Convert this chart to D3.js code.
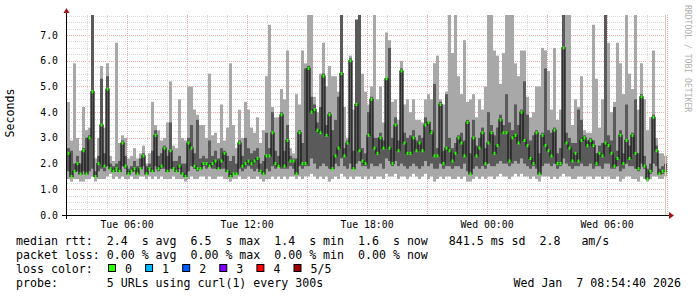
<!DOCTYPE html>
<html>
<head>
<meta charset="UTF-8">
<title>Smokeping latency</title>
<style>
  body { margin: 0; background: #fff; }
  text { font-family: "DejaVu Sans Mono", monospace; fill: #000; white-space: pre; }
  .tick { font-size: 9.8px; }
  .legend { font-size: 11.6px; }
</style>
</head>
<body>
<svg id="chart" width="697" height="297"></svg>
<script src="https://cdn.jsdelivr.net/npm/d3@7"></script>
<script>
// 9-minute columns, Tue 03:00 -> Wed 09:00
var pingMin = [1.4,1.3,1.4,1.4,1.3,1.3,1.4,1.4,1.5,1.3, 1.4,1.4,1.4,1.5,1.6,1.4,1.5,1.4,1.5,1.4, 1.4,1.5,1.4,1.4,1.5,1.5,1.4,1.5,1.4,1.5, 1.4,1.5,1.4,1.4,1.4,1.5,1.4,1.4,1.4,1.3,
  1.4,1.5,1.4,1.4,1.5,1.5,1.4,1.5,1.4,1.4, 1.5,1.5,1.4,1.4,1.3,1.4,1.4,1.5,1.4,1.4, 1.5,1.4,1.4,1.5,1.4,1.3,1.4,1.4,1.5,1.4, 1.5,1.4,1.5,1.4,1.5,1.5,1.4,1.5,1.4,1.5,
  1.5,1.6,1.5,1.4,1.5,1.4,1.5,1.3,1.4,1.5, 1.4,1.6,1.5,1.4,1.5,1.4,1.5,1.5,1.4,1.5, 1.4,1.5,1.4,1.5,1.5,1.4,1.6,1.5,1.5,1.6, 1.4,1.5,1.5,1.4,1.5,1.6,1.5,1.4,1.5,1.6,
  1.4,1.5,1.3,1.4,1.5,1.4,1.5,1.5,1.4,1.4, 1.5,1.4,1.5,1.3,1.3,1.4,1.5,1.4,1.5,1.4, 1.5,1.5,1.4,1.5,1.6,1.5,1.5,1.4,1.5,1.6, 1.5,1.6,1.5,1.5,1.4,1.5,1.4,1.3,1.5,1.5,
  1.5,1.4,1.5,1.4,1.5,1.6,1.5,1.5,1.4,1.4, 1.5,1.5,1.4,1.5,1.5,1.4,1.5,1.5,1.4,1.5, 1.5,1.4,1.4,1.5,1.3,1.4,1.5,1.5,1.4,1.4, 1.3,1.5,1.4,1.3,1.4,1.5,1.5,1.4,1.4,1.5];
var pingQ1 = [1.7,1.5,1.7,1.7,1.6,1.7,1.6,1.7,1.8,1.5, 1.7,1.8,1.7,1.9,1.8,1.7,1.8,1.7,1.9,1.8, 1.6,1.7,1.7,1.6,1.8,1.9,1.6,1.8,1.7,1.9, 1.7,1.8,1.8,1.7,1.8,1.8,1.7,1.8,1.6,1.5,
  1.7,1.9,1.8,1.7,1.8,1.9,1.8,1.9,1.8,1.8, 1.8,1.8,1.8,1.7,1.5,1.6,1.6,1.8,1.7,1.8, 1.9,1.8,1.7,1.8,1.7,1.6,1.8,1.7,1.9,1.8, 1.9,1.8,1.8,1.8,1.9,1.8,1.6,1.9,1.8,1.9,
  1.9,2.2,2.0,1.8,1.9,2.0,1.9,1.8,1.8,2.0, 1.9,2.2,1.9,1.8,2.0,1.8,2.0,2.1,1.9,1.9, 1.8,2.0,1.9,1.9,2.0,1.8,2.2,2.1,1.9,2.1, 1.9,2.0,1.9,1.8,1.9,2.0,1.9,1.8,1.9,2.1,
  1.9,2.0,1.8,1.8,2.0,1.8,1.9,1.9,1.8,1.9, 1.9,1.8,2.0,1.7,1.6,1.8,1.9,1.8,1.9,1.8, 2.0,1.9,1.9,2.0,2.1,2.0,2.0,1.9,2.0,2.1, 2.0,2.2,2.0,1.9,1.8,1.9,1.8,1.6,1.9,2.0,
  2.0,1.9,2.0,1.8,1.9,2.2,2.0,1.9,1.8,1.9, 1.9,2.0,1.9,1.9,2.0,1.8,1.9,1.9,1.8,2.0, 2.0,1.8,1.8,1.9,1.7,1.8,2.0,1.9,1.9,1.8, 1.7,2.0,1.8,1.4,1.6,2.0,1.9,1.6,1.6,1.7];
var pingMedian = [2.4,1.5,1.7,2.0,1.6,2.5,1.6,3.0,4.8,1.5, 2.0,3.5,1.9,4.9,1.8,1.7,1.8,1.7,2.8,1.9, 1.6,1.7,1.8,1.6,1.8,2.3,1.6,1.8,1.7,3.1, 1.8,1.9,2.6,1.7,2.5,1.8,1.7,1.9,1.6,1.5,
  2.8,2.6,1.9,1.8,1.8,2.0,2.0,1.9,2.0,2.1, 1.8,2.1,2.4,1.7,1.5,1.6,1.6,2.8,1.9,2.0, 2.1,2.0,2.1,2.2,1.7,1.6,2.3,2.3,3.2,2.0, 1.9,3.9,1.9,2.9,2.1,2.1,1.6,3.2,2.0,2.0,
  5.7,4.0,4.1,3.3,3.2,5.4,3.1,3.9,1.8,2.3, 2.6,5.5,2.3,2.8,6.0,1.8,4.3,2.5,2.1,2.0, 3.1,4.5,2.6,2.4,3.0,2.6,5.3,2.6,2.0,3.5, 2.5,5.6,2.8,2.4,2.4,3.0,2.5,2.8,2.5,3.5,
  3.6,3.2,2.3,2.3,4.3,2.0,2.6,2.5,2.1,2.4, 3.0,2.8,2.3,3.6,1.6,3.0,2.3,2.6,3.2,2.0, 2.8,3.2,2.4,2.7,3.7,3.2,3.2,2.1,3.0,3.1, 2.8,4.0,2.9,2.7,2.2,2.0,3.2,1.6,3.1,2.7,
  2.5,2.3,3.3,2.0,2.0,6.5,2.8,2.6,2.1,2.4, 2.1,2.9,3.0,2.7,2.9,2.7,2.0,2.4,2.3,2.8, 2.7,2.4,1.9,2.2,3.1,2.0,2.9,2.2,3.1,2.4, 1.8,4.6,1.9,1.4,1.7,3.8,2.5,1.6,1.7,1.7];
var pingQ3 = [2.6,2.5,2.0,2.3,2.0,2.6,3.0,3.1,7.8,1.7, 2.3,5.3,2.4,5.4,2.0,1.9,2.0,2.1,2.9,2.3, 1.8,1.9,2.1,1.9,2.2,2.4,1.9,2.0,2.5,3.3, 2.3,2.4,2.7,2.3,3.6,2.1,2.1,2.3,2.0,2.0,
  3.0,3.5,2.4,3.7,2.2,2.3,2.2,2.9,2.3,2.5, 2.2,2.6,2.5,2.3,2.1,2.3,2.0,2.9,2.3,3.0, 2.6,2.4,2.5,2.6,2.0,2.1,3.2,2.6,4.0,2.5, 2.3,4.0,2.5,3.5,2.3,2.2,2.2,3.3,2.8,5.7,
  5.8,4.6,4.3,3.6,4.2,5.5,3.5,4.0,3.3,3.7, 4.6,7.8,2.6,2.9,6.1,2.5,7.6,7.8,2.6,2.4, 4.0,4.6,3.0,3.0,3.2,2.9,5.3,6.5,3.0,3.8, 2.9,5.7,3.2,3.0,3.1,3.3,2.9,3.1,3.0,3.8,
  3.6,3.3,5.1,2.6,4.4,2.5,4.7,3.0,2.6,2.8, 3.1,3.2,2.9,3.7,2.4,3.7,2.7,3.0,3.4,2.6, 4.0,3.5,3.1,3.4,3.9,3.5,4.7,3.6,3.3,4.3, 3.5,4.1,5.2,3.9,2.9,3.1,3.3,2.4,3.2,5.7,
  3.3,3.2,3.4,2.4,2.6,7.8,3.2,3.0,2.8,2.8, 4.1,3.7,3.1,2.9,3.0,2.9,2.4,2.7,2.8,7.8, 3.1,2.9,4.2,2.5,3.3,2.4,4.3,2.7,3.2,4.5, 2.4,4.7,2.3,1.8,2.0,3.9,2.7,1.8,1.9,2.0];
var pingMax = [4.4,2.9,5.9,3.0,2.5,4.2,3.3,3.4,7.8,2.2, 3.0,5.8,3.4,5.9,2.3,2.1,6.7,2.8,3.1,3.0, 2.2,2.3,2.6,2.2,2.4,2.7,2.0,2.4,4.4,3.5, 3.3,2.9,3.0,3.6,5.2,2.7,2.6,4.5,3.0,2.9,
  5.0,5.0,4.1,3.9,3.5,3.5,3.0,5.5,3.1,3.2, 2.8,4.3,2.9,3.4,5.9,3.5,2.6,4.1,3.0,4.4, 4.1,3.4,3.2,3.8,2.8,3.3,5.4,7.4,4.2,3.8, 3.8,4.9,4.5,6.4,2.6,2.4,4.7,4.3,6.4,5.9,
  7.8,7.8,4.6,4.0,5.5,6.7,5.0,5.8,5.4,5.4, 4.8,7.8,4.2,3.0,6.2,4.1,7.6,7.8,5.5,4.8, 4.3,5.0,7.8,4.5,5.0,3.6,7.1,6.8,4.4,4.5, 3.7,6.0,4.3,4.5,4.0,4.5,3.7,3.7,3.6,4.5,
  4.7,4.5,5.9,6.2,4.5,4.3,4.8,7.8,6.3,7.8, 5.4,4.7,6.8,4.4,4.5,4.7,3.8,4.5,4.1,5.0, 7.8,7.8,6.4,6.2,5.1,6.3,7.8,7.8,7.8,5.9, 5.4,6.4,6.4,4.6,3.8,4.0,5.0,5.0,6.5,6.4,
  5.6,4.1,6.5,3.7,4.1,7.8,7.8,7.8,3.5,4.5, 4.2,5.4,3.3,3.2,3.2,7.4,5.3,3.4,4.5,7.8, 6.7,4.0,4.4,6.7,5.9,4.7,7.8,5.5,4.9,7.8, 4.1,5.9,4.5,3.3,3.8,6.4,3.0,2.4,2.4,2.3];

var yTicks = ["0.0","1.0","2.0","3.0","4.0","5.0","6.0","7.0"];
var xTickLabels = ["Tue 06:00","Tue 12:00","Tue 18:00","Wed 00:00","Wed 06:00"];
var lossColors = [["0","#26ff00"],["1","#00b8ff"],["2","#0059ff"],["3","#7e00ff"],["4","#ff0000"],["5/5","#a10000"]];
var legendLines = [
  "median rtt:  2.4  s avg  6.5  s max  1.4  s min  1.6  s now   841.5 ms sd  2.8   am/s",
  "packet loss: 0.00 % avg  0.00 % max  0.00 % min  0.00 % now"
];
var probeText = "probe:       5 URLs using curl(1) every 300s";
var stampText = "Wed Jan  7 08:54:40 2026";

var svg = d3.select("#chart");
var t0 = new Date(2026, 0, 6, 3, 0), t1 = new Date(2026, 0, 7, 9, 0);
var stepMs = 9 * 60 * 1000;
var times = pingMedian.map((d, i) => new Date(t0.getTime() + i * stepMs));

var x = d3.scaleTime().domain([t0, t1]).range([67, 667]);
var y = d3.scaleLinear().domain([0, 7.78]).range([215, 15]).clamp(true);

// grid
var grid = svg.append("g");
d3.range(0.25, 7.78, 0.25).forEach(function(v) {
  var major = Math.abs(v - Math.round(v)) < 1e-6;
  grid.append("line").attr("x1", 67).attr("x2", 667).attr("y1", Math.round(y(v)) + 0.5).attr("y2", Math.round(y(v)) + 0.5)
    .attr("stroke", major ? "#eeaaaa" : "#d8d8d8").attr("stroke-dasharray", "1,1");
});
x.ticks(d3.timeHour.every(1)).forEach(function(t) {
  if (+t === +t0) return;
  var major = t.getHours() % 3 === 0;
  grid.append("line").attr("x1", Math.round(x(t)) + 0.5).attr("x2", Math.round(x(t)) + 0.5).attr("y1", 15).attr("y2", 215)
    .attr("stroke", major ? "#eeaaaa" : "#d8d8d8").attr("stroke-dasharray", "1,1");
});

// smoke
var cw = x(times[1]) - x(times[0]);
var smoke = svg.append("g");
smoke.selectAll("rect.outer").data(times).enter().append("rect")
  .attr("x", d => x(d)).attr("width", cw)
  .attr("y", (d, i) => y(pingMax[i])).attr("height", (d, i) => y(pingMin[i]) - y(pingMax[i]))
  .attr("fill", "#a8a8a8");
smoke.selectAll("rect.inner").data(times).enter().append("rect")
  .attr("x", d => x(d)).attr("width", cw)
  .attr("y", (d, i) => y(pingQ3[i])).attr("height", (d, i) => y(pingQ1[i]) - y(pingQ3[i]))
  .attr("fill", "#5a5a5a");

// median step line
var stepLine = d3.line().curve(d3.curveStepAfter).x(d => d[0]).y(d => d[1]);
var pts = times.map((d, i) => [x(d), y(pingMedian[i])]);
pts.push([x(times[times.length - 1]) + cw, y(pingMedian[pingMedian.length - 1])]);
svg.append("path").attr("d", stepLine(pts)).attr("fill", "none").attr("stroke", "#151515").attr("stroke-width", 1.2);
svg.append("g").selectAll("rect").data(times).enter().append("rect")
  .attr("x", d => x(d) + 0.5).attr("width", 2)
  .attr("y", (d, i) => y(pingMedian[i]) - 1.5).attr("height", 3)
  .attr("fill", "#26ff00");

// right edge
svg.append("line").attr("x1", 665.5).attr("x2", 665.5).attr("y1", 15).attr("y2", 215).attr("stroke", "#cfcbb0");

// axes
svg.append("line").attr("x1", 62).attr("x2", 670).attr("y1", 215.5).attr("y2", 215.5).attr("stroke", "#000");
svg.append("line").attr("x1", 66.5).attr("x2", 66.5).attr("y1", 219).attr("y2", 12).attr("stroke", "#000");
svg.append("path").attr("d", "M669,212 L674,215.5 L669,219 Z").attr("fill", "#a01818");
svg.append("path").attr("d", "M63.5,13 L66.5,8 L69.5,13 Z").attr("fill", "#a01818");

svg.append("g").selectAll("text").data(yTicks).enter().append("text")
  .attr("class", "tick").attr("x", 58).attr("y", d => y(+d) + 3.5).attr("text-anchor", "end").text(d => d);
var xTickTimes = x.ticks(d3.timeHour.every(6));
svg.append("g").selectAll("text").data(xTickTimes).enter().append("text")
  .attr("class", "tick").attr("x", d => x(d)).attr("y", 228).attr("text-anchor", "middle")
  .text((d, i) => xTickLabels[i]);

svg.append("text").attr("class", "legend").attr("transform", "translate(14,113) rotate(-90)")
  .attr("text-anchor", "middle").text("Seconds");
svg.append("text").attr("transform", "translate(685,5) rotate(90)")
  .style("font-size", "8.1px").style("fill", "#b0b0b0").text("RRDTOOL / TOBI OETIKER");

// legend
legendLines.forEach(function(s, i) {
  svg.append("text").attr("class", "legend").attr("x", 16).attr("y", 245 + i * 14).text(s);
});
svg.append("text").attr("class", "legend").attr("x", 16).attr("y", 273).text("loss color:");
var lg = svg.append("g").selectAll("g").data(lossColors).enter().append("g")
  .attr("transform", (d, i) => "translate(" + (108.5 + i * 37.1) + ",264.5)");
lg.append("rect").attr("width", 7).attr("height", 7).attr("fill", d => d[1]).attr("stroke", "#000");
lg.append("text").attr("class", "legend").attr("x", 16.5).attr("y", 8.5).text(d => d[0]);
svg.append("text").attr("class", "legend").attr("x", 16).attr("y", 287).text(probeText);
svg.append("text").attr("class", "legend").attr("x", 681).attr("y", 287).attr("text-anchor", "end").text(stampText);
</script>
</body>
</html>
